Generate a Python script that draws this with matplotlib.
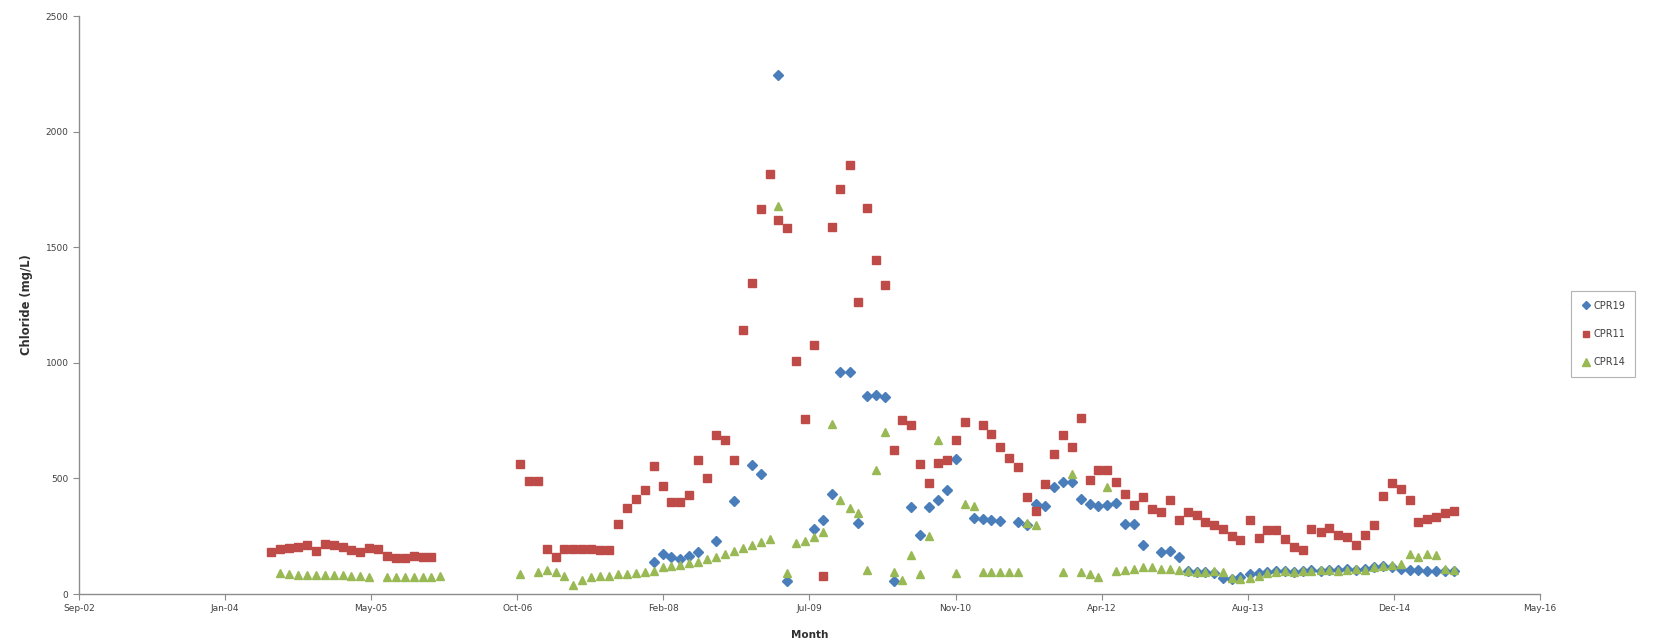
import matplotlib
matplotlib.use("Agg")
import matplotlib.pyplot as plt
import matplotlib.dates as mdates
import numpy as np
import pandas as pd
from datetime import datetime, timedelta

# Monthly sampling dates, Jun 2004 .. Jul 2015
months = pd.date_range("2004-06-01", "2015-07-01", freq="MS") + pd.Timedelta(days=19)

N = None
# CPR11 (red squares)
cpr11 = [
    180, 195, 200, 205, 210, 185, 215,            # Jun-Dec 2004
    210, 205, 190, 180, 200, 195, 165, 155, 155, 165, 160, 160,  # 2005
    N, N, N, N, N, N, N, N, N, 563, 490, 490,     # 2006
    196, 160, 195, 195, 195, 195, 190, 190, 301, 373, 412, 448,  # 2007
    552, 465, 398, 398, 427, 578, 503, 686, 665, 578, 1140, 1345,  # 2008
    1666, 1818, 1616, 1584, 1008, 755, 1075, 80, 1587, 1750, 1854, 1263,  # 2009
    1671, 1443, 1338, 624, 751, 729, 561, 480, 565, 580, 664, 744,  # 2010
    N, 729, 693, 635, 589, 549, 419, 359, 477, 607, 686, 636,  # 2011
    762, 494, 538, 538, 484, 434, 383, 419, 369, 354, 405, 322,  # 2012
    355, 340, 312, 297, 283, 250, 235, 319, 242, 276, 276, 240,  # 2013
    204, 189, 283, 269, 287, 254, 247, 211, 254, 297, 423, 480,  # 2014
    452, 405, 312, 326, 335, 350, 360,            # Jan-Jul 2015
]
# CPR19 (blue diamonds)
cpr19 = [
    N, N, N, N, N, N, N,
    N, N, N, N, N, N, N, N, N, N, N, N,
    N, N, N, N, N, N, N, N, N, N, N, N,
    N, N, N, N, N, N, N, N, N, N, N, N,
    138, 175, 160, 150, 165, 180, N, 228, N, 403, N, 560,
    520, N, 2246, 55, N, N, 282, 318, 431, 960, 960, 307,
    855, 860, 850, 55, N, 376, 255, 376, 405, 448, 585, N,
    330, 325, 320, 315, N, 310, 300, 390, 380, 463, 484, 484,
    410, 390, 380, 385, 395, 304, 304, 210, N, 180, 185, 160,
    100, 95, 95, 90, 70, 65, 75, 85, 90, 95, 100, 100,
    95, 100, 105, 100, 105, 105, 110, 105, 110, 115, 120, 115,
    110, 105, 105, 100, 100, 100, 100,
]
# CPR14 (green triangles)
cpr14 = [
    N, 90, 85, 82, 83, 82, 83,
    82, 83, 80, 80, 72, N, 75, 75, 75, 72, 72, 75,
    80, N, N, N, N, N, N, N, N, 85, N, 95,
    105, 95, 80, 40, 60, 75, 78, 80, 85, 88, 92, 95,
    100, 115, 120, 125, 135, 140, 150, 160, 175, 185, 200, 210,
    225, 240, 1680, 90, 220, 230, 245, 270, 737, 405, 370, 350,
    102, 535, 700, 95, 60, 167, 88, 250, 664, N, 90, 390,
    380, 95, 95, 95, 95, 95, 305, 300, N, N, 95, 520,
    95, 85, 75, 462, 100, 105, 110, 115, 115, 110, 110, 105,
    100, 95, 95, 100, 95, 70, 65, 70, 80, 90, 95, 100,
    95, 100, 100, 105, 105, 100, 105, 110, 105, 115, 120, 125,
    130, 175, 160, 175, 170, 110, 105,
]

series = [
    ("CPR19", cpr19, "D", "#4A7EBB", 5.0),
    ("CPR11", cpr11, "s", "#BE4B48", 5.5),
    ("CPR14", cpr14, "^", "#98B954", 6.0),
]

W, H = 1659, 643
fig = plt.figure(figsize=(W / 100, H / 100), dpi=100)
ax = fig.add_axes([79 / W, 1 - 594 / H, (1540 - 79) / W, (594 - 16) / H])

for name, vals, mk, col, ms in series:
    y = np.array([np.nan if v is None else v for v in vals], dtype=float)
    x = months[: len(y)]
    ax.plot(x, y, linestyle="none", marker=mk, color=col, markersize=ms,
            markeredgecolor=col, label=name)

x0 = datetime(2002, 9, 1)
ticks = [x0 + timedelta(days=500 * i) for i in range(11)]
ax.set_xlim(ticks[0], ticks[-1])
ax.set_xticks(ticks)
ax.xaxis.set_major_formatter(mdates.DateFormatter("%b-%y"))
ax.set_ylim(0, 2500)
ax.set_yticks(np.arange(0, 2501, 500))

for s in ["top", "right"]:
    ax.spines[s].set_visible(False)
for s in ["left", "bottom"]:
    ax.spines[s].set_color("#8C8C8C")
    ax.spines[s].set_linewidth(1.0)
ax.tick_params(axis="both", colors="#8C8C8C", labelcolor="#404040",
               labelsize=6.5, length=4, width=0.8, direction="out")

ax.set_xlabel("Month", fontsize=7.5, fontweight="bold", color="#303030", labelpad=12)
ax.set_ylabel("Chloride (mg/L)", fontsize=8.3, fontweight="bold", color="#303030", labelpad=9)

leg = ax.legend(loc="center", bbox_to_anchor=(1603 / W, 1 - 334 / H),
                bbox_transform=fig.transFigure, fontsize=7, frameon=True,
                fancybox=False, edgecolor="#A0A0A0", handlelength=1.0,
                handletextpad=0.3, borderpad=1.0, labelspacing=1.9,
                markerscale=0.9)
leg.get_frame().set_linewidth(0.8)
for t in leg.get_texts():
    t.set_color("#404040")

fig.savefig("out.png", dpi=100)
